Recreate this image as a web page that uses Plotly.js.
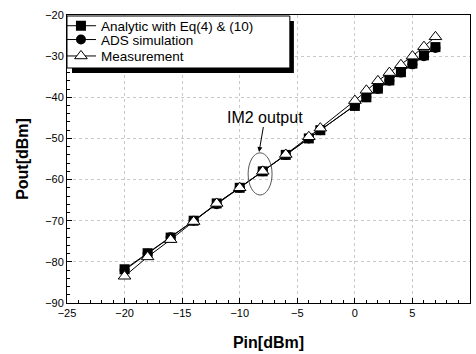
<!DOCTYPE html>
<html>
<head>
<meta charset="utf-8">
<script src="https://cdn.plot.ly/plotly-3.0.1.min.js"></script>
<style>html,body{margin:0;padding:0;background:#fff;}#chart{width:476px;height:354px;}</style>
</head>
<body>
<div id="chart"></div>
<script>
const pin = [-20, -18, -16, -14, -12, -10, -8, -6, -4, -3, 0, 1, 2, 3, 4, 5, 6, 7];
const analytic = [-81.8, -77.9, -74.1, -70.0, -65.8, -62.0, -58.0, -54.0, -50.0, -48.0, -42.1, -40.0, -37.9, -35.9, -33.9, -31.8, -29.8, -27.8];
const ads = [-82.0, -78.0, -74.0, -70.0, -66.0, -62.0, -58.0, -54.0, -50.0, -48.0, -42.0, -40.0, -38.0, -36.0, -34.0, -32.0, -30.0, -28.0];
const measured = [-83.5, -78.8, -74.6, -70.2, -65.8, -62.0, -58.0, -53.9, -49.6, -47.5, -40.8, -38.3, -36.0, -34.0, -32.1, -30.0, -27.7, -25.3];
const seriesNames = ["Analytic with Eq(4) & (10)", "ADS simulation", "Measurement"];

const font = "Arial, 'Liberation Sans', sans-serif";

const traces = [
  {x: pin, y: analytic, name: seriesNames[0], mode: "lines+markers", legend: "legend",
   line: {color: "#000", width: 1},
   marker: {symbol: "square", size: 10, color: "#000"}},
  {x: pin, y: ads, name: seriesNames[1], mode: "lines+markers", legend: "legend2",
   line: {color: "#000", width: 1},
   marker: {symbol: "circle", size: 10, color: "#000"}},
  {x: pin, y: measured, name: seriesNames[2], mode: "lines+markers", legend: "legend3",
   line: {color: "#000", width: 1},
   marker: {symbol: "triangle-up", size: 11, color: "#fff", line: {color: "#000", width: 1}}}
];

const axisCommon = {
  showline: true, mirror: true, linecolor: "#000", linewidth: 1,
  ticks: "inside", ticklen: 5, tickcolor: "#000",
  showgrid: true, gridcolor: "#c8c8c8", griddash: "dot", gridwidth: 1,
  zeroline: false,
  tickfont: {family: font, size: 11, color: "#000"},
  minor: {ticks: "inside", ticklen: 3, tickcolor: "#000", showgrid: false}
};

function legendAt(y) {
  return {x: -0.015, y: y, xanchor: "left", yanchor: "middle",
    bgcolor: "rgba(0,0,0,0)", borderwidth: 0,
    font: {family: font, size: 13.5, color: "#000"}, itemwidth: 30};
}

const layout = {
  width: 476, height: 354,
  margin: {l: 67, r: 6, t: 15, b: 51},
  paper_bgcolor: "#fff", plot_bgcolor: "#fff",
  showlegend: true,
  legend: legendAt(0.962),
  legend2: legendAt(0.914),
  legend3: legendAt(0.857),
  xaxis: Object.assign({}, axisCommon, {
    range: [-25, 10], dtick: 5, tick0: -25,
    minor: Object.assign({}, axisCommon.minor, {dtick: 1}),
    title: {text: "<b>Pin[dBm]</b>", font: {family: font, size: 16, color: "#000"}, standoff: 18}
  }),
  yaxis: Object.assign({}, axisCommon, {
    range: [-90, -20], dtick: 10, tick0: -90,
    minor: Object.assign({}, axisCommon.minor, {dtick: 2}),
    title: {text: "<b>Pout[dBm]</b>", font: {family: font, size: 16, color: "#000"}, standoff: 12}
  }),
  shapes: [
    {type: "rect", xref: "paper", yref: "paper", x0: 0.0124, x1: 0.563, y0: 0.799, y1: 0.979,
     fillcolor: "#000", line: {width: 0}, layer: "above"},
    {type: "rect", xref: "paper", yref: "paper", x0: 0.0, x1: 0.553, y0: 0.816, y1: 0.9965,
     fillcolor: "#fff", line: {color: "#000", width: 1}, layer: "above"},
    {type: "circle", xref: "x", yref: "y", x0: -9.27, x1: -7.19, y0: -63.75, y1: -53.5,
     line: {color: "#555", width: 1}, layer: "above"}
  ],
  annotations: [
    {x: -8.32, y: -53.3, xref: "x", yref: "y", ax: 6, ay: -35,
     text: "IM2 output", showarrow: true, arrowhead: 2, arrowsize: 1, arrowwidth: 1, arrowcolor: "#000",
     font: {family: font, size: 16, color: "#000"}}
  ]
};

Plotly.newPlot("chart", traces, layout, {displayModeBar: false, staticPlot: true});
</script>
</body>
</html>
